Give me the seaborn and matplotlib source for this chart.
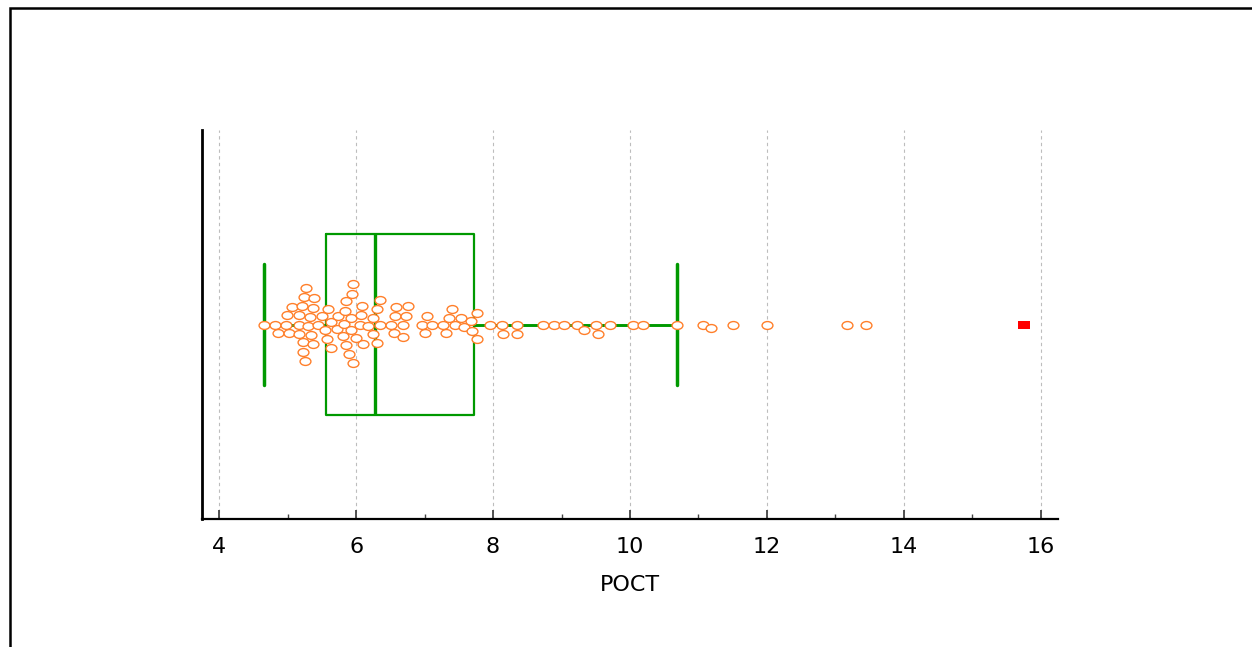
import matplotlib
matplotlib.use("Agg")
import matplotlib.pyplot as plt
import seaborn as sns
import numpy as np
from matplotlib.path import Path
from matplotlib.transforms import Affine2D
from matplotlib.patches import Rectangle

# ---- data ----
poct = [4.66, 4.81, 4.86, 4.97, 4.99, 5.02, 5.06,
        5.17, 5.17, 5.17, 5.21, 5.23, 5.23, 5.24, 5.26, 5.27, 5.30, 5.33, 5.34,
        5.37, 5.37, 5.38, 5.44, 5.50, 5.55, 5.57, 5.59, 5.63, 5.63, 5.72, 5.73,
        5.81, 5.83, 5.84, 5.85, 5.86, 5.89, 5.93, 5.93, 5.94, 5.95, 5.95,
        6.00, 6.05, 6.07, 6.08, 6.10, 6.18, 6.25, 6.25, 6.30, 6.30, 6.35, 6.35,
        6.51, 6.56, 6.57, 6.58, 6.68, 6.68, 6.73, 6.76, 6.96, 7.01, 7.03, 7.11,
        7.27, 7.32, 7.36, 7.40, 7.44, 7.53, 7.58, 7.68, 7.70, 7.76, 7.76, 7.95,
        8.13, 8.15, 8.35, 8.35, 8.73, 8.89, 9.04, 9.22, 9.33, 9.50, 9.54, 9.71,
        10.04, 10.19, 10.69, 11.06, 11.18, 11.51, 12.00, 13.17, 13.44]
far_out = [15.75]
major_ticks = [4, 6, 8, 10, 12, 14, 16]
minor_ticks = [5, 7, 9, 11, 13, 15]
x_label = "POCT"

green = "#009900"
orange = "#FF7F2A"

sns.set_theme(style="white")
plt.rcParams["font.family"] = ["DejaVu Sans"]
plt.rcParams["text.color"] = "black"
plt.rcParams["xtick.labelcolor"] = "black"
plt.rcParams["axes.labelcolor"] = "black"

fig = plt.figure(figsize=(12.52, 6.47), dpi=100)
fig.patch.set_facecolor("white")
ax = fig.add_axes([202 / 1252, 1 - 519 / 647, (1058 - 202) / 1252, (519 - 130) / 647])

all_vals = poct + far_out
sns.boxplot(x=all_vals, ax=ax, orient="h", width=0.465, fill=False, color=green,
            showfliers=False, whis=1.5, linewidth=1.6, capwidths=0.311,
            boxprops=dict(linewidth=1.6, color=green),
            medianprops=dict(linewidth=2.4, color=green),
            whiskerprops=dict(linewidth=2.1, color=green),
            capprops=dict(linewidth=2.5, color=green))

ax.set_xlim(3.75, 16.25)
ax.set_ylim(0.5, -0.5)

ellipse = Path.unit_circle().transformed(Affine2D().scale(1.0, 8 / 11))
# lay out the swarm with a compact collision size, then draw the markers larger
sns.swarmplot(x=poct, ax=ax, orient="h", marker=ellipse, size=5.5, color="white",
              edgecolor=orange, linewidth=1.0, zorder=3)
swarm = ax.collections[-1]
ax.set_xlim(3.75, 16.25)
ax.set_ylim(0.5, -0.5)
fig.canvas.draw()
swarm.__dict__.pop("draw", None)
swarm.set_sizes([7.8 ** 2])

rect = Path([(-1, -0.65), (1, -0.65), (1, 0.65), (-1, 0.65), (-1, -0.65)],
            [Path.MOVETO, Path.LINETO, Path.LINETO, Path.LINETO, Path.CLOSEPOLY])
sns.stripplot(x=far_out, ax=ax, orient="h", jitter=False, marker=rect, size=8.8,
              color="#FF0000", linewidth=0, zorder=3)

ax.set_xlim(3.75, 16.25)
ax.set_ylim(0.5, -0.5)
ax.set_xticks(major_ticks)
ax.set_xticks(minor_ticks, minor=True)
ax.set_xticklabels([str(t) for t in major_ticks], fontsize=16, color="black")
ax.set_yticks([])
ax.set_ylabel("")
ax.set_xlabel(x_label, fontsize=16, labelpad=13, color="black")
ax.tick_params(axis="x", which="major", direction="in", length=6.5, width=1.3,
               color="#444444", pad=13, bottom=True)
ax.tick_params(axis="x", which="minor", direction="in", length=3.6, width=1.0,
               color="#444444", bottom=True)
ax.set_axisbelow(True)
ax.grid(axis="x", which="major", color="#bdbdbd", linestyle=(0, (3, 3)), linewidth=0.8)
ax.grid(axis="y", visible=False)
for s in ["top", "right"]:
    ax.spines[s].set_visible(False)
ax.spines["left"].set_linewidth(2.0)
ax.spines["left"].set_color("black")
ax.spines["bottom"].set_linewidth(1.6)
ax.spines["bottom"].set_color("black")

frame = Rectangle((10 / 1252, -0.1), 1.2, 1 - 8 / 647 + 0.1, transform=fig.transFigure,
                  fill=False, edgecolor="black", linewidth=1.8, clip_on=False)
fig.add_artist(frame)

fig.savefig("out.png", dpi=100, facecolor="white")
